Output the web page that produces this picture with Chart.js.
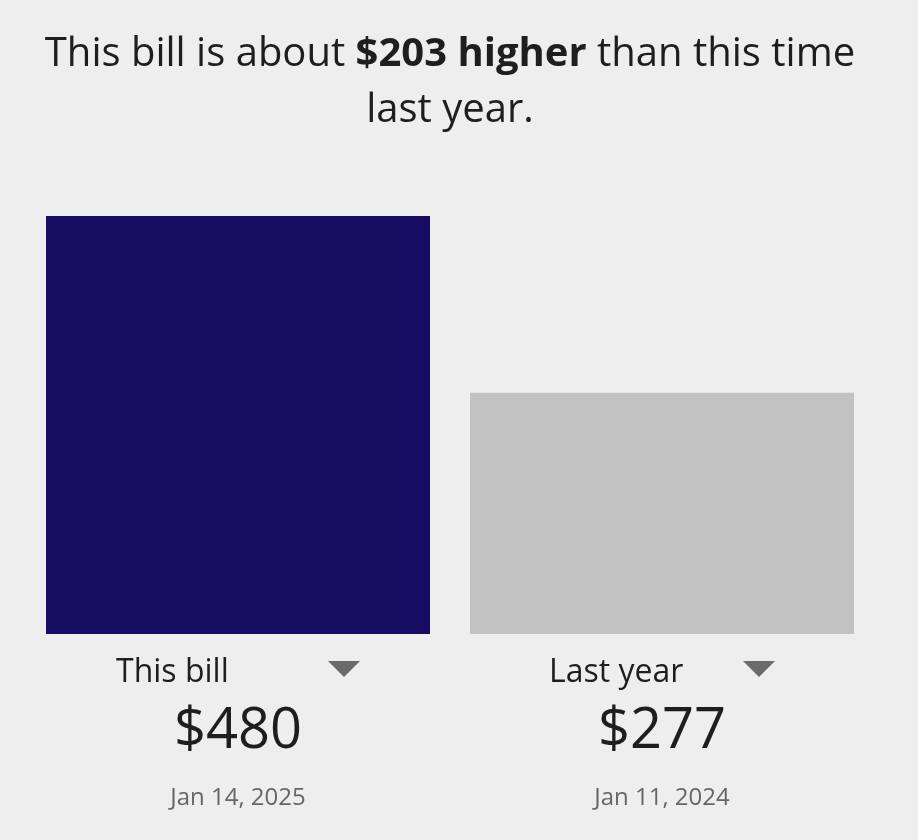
<!DOCTYPE html>
<html>
<head>
<meta charset="utf-8">
<script src="https://cdn.jsdelivr.net/npm/chart.js@4"></script>
<style>
  html, body { margin: 0; padding: 0; background: #eeeeee; }
  #wrap { position: relative; width: 918px; height: 840px; }
  #headline {
    position: absolute; top: 23px; left: 30px; width: 840px;
    text-align: center; font-family: "Open Sans", sans-serif;
    font-size: 40px; line-height: 56px; color: #1e1e1e;
  }
  #headline b { font-weight: 700; }
  canvas { position: absolute; left: 0; top: 0; }
</style>
</head>
<body>
<div id="wrap">
  <canvas id="billChart" width="918" height="840"></canvas>
  <div id="headline">This bill is about <b>$203 higher</b> than this time last year.</div>
</div>
<script>
const categories = ['This bill', 'Last year'];
const amounts = [480, 277];
const billDates = ['Jan 14, 2025', 'Jan 11, 2024'];
const barColors = ['#170d63', '#c2c2c2'];

// draws the label row, the amount and the date under each bar
const underLabels = {
    id: 'underLabels',
    afterDraw(chart, args, opts) {
        const ctx = chart.ctx;
        const x = chart.scales.x;
        const bottom = chart.chartArea.bottom;
        ctx.save();
        categories.forEach((cat, i) => {
            const cx = x.getPixelForValue(i);
            const half = opts.groupWidth[i] / 2;

            ctx.font = '32px "Open Sans"';
            ctx.fillStyle = '#1e1e1e';
            ctx.textAlign = 'left';
            ctx.textBaseline = 'alphabetic';
            ctx.fillText(cat, cx - half, bottom + 48);

            // dropdown triangle
            ctx.fillStyle = '#6b6b6b';
            ctx.beginPath();
            ctx.moveTo(cx + half - 32, bottom + 27);
            ctx.lineTo(cx + half, bottom + 27);
            ctx.lineTo(cx + half - 16, bottom + 43);
            ctx.closePath();
            ctx.fill();

            ctx.textAlign = 'center';
            ctx.font = '56px "Open Sans"';
            ctx.fillStyle = '#1e1e1e';
            ctx.fillText('$' + amounts[i], cx, bottom + 114);

            ctx.font = '24px "Open Sans"';
            ctx.fillStyle = '#666666';
            ctx.fillText(billDates[i], cx, bottom + 171);
        });
        ctx.restore();
    }
};

new Chart(document.getElementById('billChart'), {
    type: 'bar',
    data: {
        labels: categories,
        datasets: [{
            data: amounts,
            backgroundColor: barColors,
            borderWidth: 0,
            barPercentage: 384 / 424,
            categoryPercentage: 1
        }]
    },
    options: {
        responsive: false,
        animation: false,
        layout: { padding: { top: 216, bottom: 206, left: 26, right: 44 } },
        scales: {
            x: { display: false },
            y: { display: false, min: 0, max: 480 }
        },
        plugins: {
            legend: { display: false },
            tooltip: { enabled: false },
            underLabels: { groupWidth: [244, 226] }
        }
    },
    plugins: [underLabels]
});
</script>
</body>
</html>
